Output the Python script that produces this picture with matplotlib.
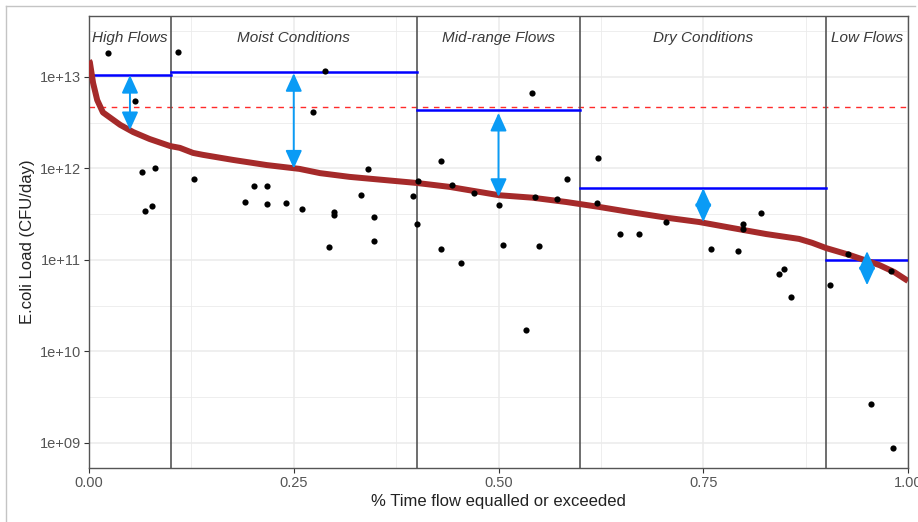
import numpy as np
import matplotlib
matplotlib.use('Agg')
import matplotlib.pyplot as plt
from matplotlib.ticker import FixedLocator, FuncFormatter, NullFormatter
from matplotlib.lines import Line2D

plt.rcParams['font.family'] = ['Liberation Sans', 'DejaVu Sans']

#load duration curve
curve_x = [0.0, 0.001, 0.005, 0.010, 0.017, 0.038, 0.054, 0.074, 0.099, 0.111, 0.127, 0.139,
           0.176, 0.217, 0.257, 0.282, 0.318, 0.40, 0.44, 0.501, 0.541, 0.583, 0.623, 0.66,
           0.705, 0.745, 0.785, 0.827, 0.867, 0.883, 0.90, 0.928, 0.965, 0.983, 1.0]
curve_y = [1.50e13, 1.46e13, 8.6e12, 5.6e12, 4.1e12, 3.0e12, 2.5e12, 2.1e12, 1.76e12, 1.68e12, 1.48e12, 1.41e12,
           1.24e12, 1.09e12, 9.9e11, 8.9e11, 8.1e11, 6.95e11, 6.3e11, 5.1e11, 4.8e11, 4.3e11, 3.8e11, 3.35e11,
           2.9e11, 2.6e11, 2.24e11, 1.92e11, 1.70e11, 1.54e11, 1.35e11, 1.14e11, 8.8e10, 7.4e10, 5.9e10]

#observed loads
obs_x = [0.023, 0.056, 0.065, 0.080, 0.068, 0.077,
         0.109, 0.128, 0.190, 0.202, 0.217, 0.217, 0.241, 0.260, 0.274, 0.288, 0.293, 0.299, 0.299,
         0.332, 0.341, 0.348, 0.348, 0.396,
         0.402, 0.401, 0.430, 0.443, 0.470, 0.500, 0.541, 0.544, 0.572, 0.584, 0.430, 0.454, 0.505,
         0.549, 0.533,
         0.621, 0.620, 0.648, 0.672, 0.704, 0.759, 0.793, 0.798, 0.798, 0.820, 0.843, 0.849, 0.857,
         0.905, 0.927, 0.979, 0.955, 0.982]
obs_y = [1.83e13, 5.5e12, 9.2e11, 1.01e12, 3.4e11, 3.9e11,
         1.87e13, 7.7e11, 4.3e11, 6.4e11, 6.4e11, 4.1e11, 4.2e11, 3.6e11, 4.1e12, 1.16e13, 1.39e11, 3.35e11, 3.1e11,
         5.1e11, 9.9e11, 2.95e11, 1.61e11, 5.0e11,
         7.3e11, 2.47e11, 1.21e12, 6.6e11, 5.4e11, 4.0e11, 6.7e12, 4.9e11, 4.65e11, 7.7e11, 1.32e11, 9.3e10, 1.46e11,
         1.42e11, 1.72e10,
         1.30e12, 4.2e11, 1.92e11, 1.92e11, 2.6e11, 1.32e11, 1.25e11, 2.5e11, 2.2e11, 3.3e11, 7.0e10, 8.0e10, 3.9e10,
         5.3e10, 1.16e11, 7.6e10, 2.67e9, 8.8e8]

#flow zones
zone_names = ['High Flows', 'Moist Conditions', 'Mid-range Flows', 'Dry Conditions', 'Low Flows']
zone_lo = [0.0, 0.1, 0.4, 0.6, 0.9]
zone_hi = [0.1, 0.4, 0.6, 0.9, 1.0]
zone_mid = [0.05, 0.25, 0.5, 0.75, 0.95]
zone_load = [1.05e13, 1.13e13, 4.4e12, 6.1e11, 1.0e11]
arrow_top = [1.05e13, 1.1e13, 4.05e12, 6.1e11, 1.25e11]
arrow_bot = [2.63e12, 1.0e12, 4.9e11, 2.6e11, 5.3e10]
target = 4.7e12
label_y = 2.7e13

fig = plt.figure(figsize=(9.18, 5.22), dpi=100)
ax = fig.add_axes([89/918, 1-468/522, (908-89)/918, (468-16)/522])

ax.set_yscale('log')
ax.set_xlim(0, 1)
ax.set_ylim(5.33e8, 4.64e13)

ax.set_xticks([0, 0.25, 0.5, 0.75, 1.0])
ax.set_xticklabels(['0.00', '0.25', '0.50', '0.75', '1.00'])
ax.xaxis.set_minor_locator(FixedLocator([0.125, 0.375, 0.625, 0.875]))
ax.yaxis.set_major_locator(FixedLocator([1e9, 1e10, 1e11, 1e12, 1e13]))
ax.yaxis.set_major_formatter(FuncFormatter(lambda v, p: '1e+%02d' % round(np.log10(v))))
ax.yaxis.set_minor_locator(FixedLocator([10**(n+0.5) for n in range(8, 14)]))
ax.yaxis.set_minor_formatter(NullFormatter())

ax.grid(which='major', color='#ebebeb', lw=1.1, zorder=0)
ax.grid(which='minor', color='#ebebeb', lw=0.6, zorder=0)
ax.set_axisbelow(True)
ax.tick_params(which='major', length=3.5, width=0.8, color='#333333', labelcolor='#555555', labelsize=10.5, pad=2)
ax.tick_params(which='minor', length=0)
for s in ax.spines.values():
    s.set_color('#555555')
    s.set_linewidth(1.0)

ax.axhline(target, color='#ff2a2a', lw=1.0, ls=(0, (4, 4)), zorder=2)

for i in range(len(zone_names)):
    if zone_lo[i] > 0:
        ax.axvline(zone_lo[i], color='#555555', lw=1.2, zorder=2)
    ax.plot([zone_lo[i], zone_hi[i]], [zone_load[i], zone_load[i]], color='#0000ff', lw=1.8, zorder=3)
    ax.text(zone_mid[i], label_y, zone_names[i], style='italic', fontsize=11, color='#3a3a3a',
            ha='center', va='center')

ax.plot(curve_x, curve_y, color='#a52a2a', lw=4.3, solid_capstyle='butt', zorder=4)
ax.scatter(obs_x, obs_y, s=20, color='black', zorder=5, linewidths=0)

for i in range(len(zone_mid)):
    ax.annotate('', xy=(zone_mid[i], arrow_bot[i]), xytext=(zone_mid[i], arrow_top[i]),
                arrowprops=dict(arrowstyle='<|-|>,head_length=1.1,head_width=0.5', color='#0a9bf5',
                                lw=1.4, shrinkA=0, shrinkB=0, mutation_scale=10),
                zorder=6)

ax.set_xlabel('% Time flow equalled or exceeded', fontsize=12, color='#222222', labelpad=3)
ax.set_ylabel('E.coli Load (CFU/day)', fontsize=12, color='#222222', labelpad=4)

#screenshot frame
fig.add_artist(Line2D([6/918, 915/918], [1-6/522, 1-6/522], color='#c4c4c4', lw=1))
fig.add_artist(Line2D([6/918, 6/918], [0, 1-6/522], color='#c4c4c4', lw=1))

fig.savefig('out.png', dpi=100)
